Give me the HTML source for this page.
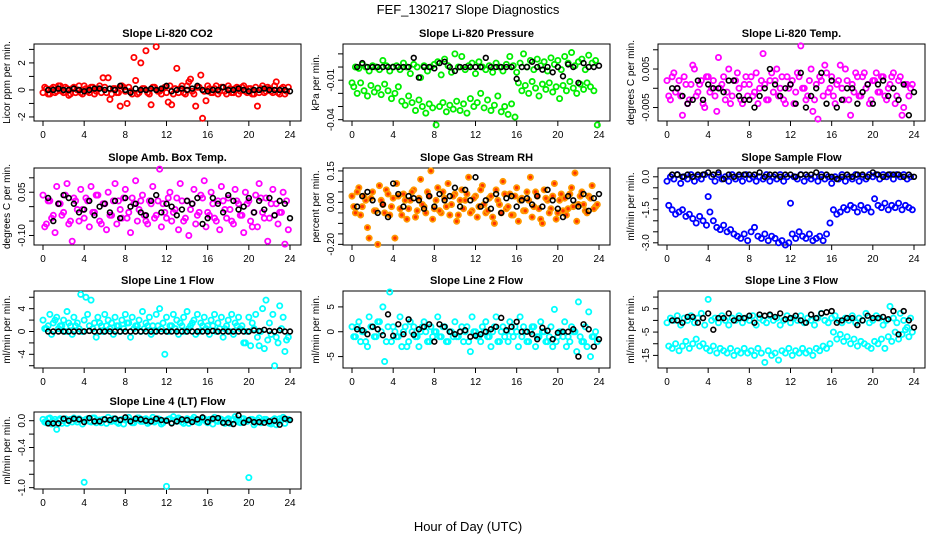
<!DOCTYPE html>
<html><head><meta charset="utf-8"><style>
body{margin:0;background:#fff;}
svg{display:block;font-family:"Liberation Sans",sans-serif;}
</style></head><body>
<svg id="chart" width="936" height="540" viewBox="0 0 936 540">
<rect width="936" height="540" fill="#fff"/>
<text x="468" y="14" text-anchor="middle" font-size="13">FEF_130217  Slope Diagnostics</text>
<text x="468" y="531" text-anchor="middle" font-size="13">Hour of Day (UTC)</text>
</svg>
<script>
const xTicks=[0,4,8,12,16,20,24];
const titles=["Slope Li-820 CO2","Slope Li-820 Pressure","Slope Li-820 Temp.","Slope Amb. Box Temp.","Slope Gas Stream RH","Slope Sample Flow","Slope Line 1 Flow","Slope Line 2 Flow","Slope Line 3 Flow","Slope Line 4 (LT) Flow"];
const yTitles=["Licor ppm per min.","kPa per min.","degrees C per min.","degrees C per min.","percent per min.","ml/min per min.","ml/min per min.","ml/min per min.","ml/min per min.","ml/min per min."];
const yDomains=[[-2.3,3.4],[-0.041,0.0175],[-0.0085,0.0115],[-0.133,0.134],[-0.203,0.164],[-3.1,0.4],[-6.4,7.1],[-7.3,8.2],[-20.4,12.6],[-1.02,0.13]];
const yTickVals=[[-2,-1,0,1,2,3],[-0.04,-0.03,-0.02,-0.01,0,0.01],[-0.005,0,0.005,0.01],[-0.1,-0.05,0,0.05,0.1],[-0.2,-0.15,-0.1,-0.05,0,0.05,0.1,0.15],[-3,-2.5,-2,-1.5,-1,-0.5,0],[-6,-4,-2,0,2,4,6],[-5,0,5],[-15,-10,-5,0,5,10],[-1,-0.8,-0.6,-0.4,-0.2,0]];
const yTickLabels=[["-2","0","2"],["-0.04","-0.01"],["-0.005","0.005"],["-0.10","0.05"],["-0.20","0.00","0.15"],["-3.0","-1.5","0.0"],["-4","0","4"],["-5","0","5"],["-15","-5","5"],["-1.0","-0.4","0.0"]];
const yLabelVals=[[-2,0,2],[-0.04,-0.01],[-0.005,0.005],[-0.1,0.05],[-0.2,0,0.15],[-3,-1.5,0],[-4,0,4],[-5,0,5],[-15,-5,5],[-1,-0.4,0]];
const seriesColor=["#ff0000","#00ee00","#ff00ff","#ff00ff","#ff9900","#0000ff","#00ffff","#00ffff","#00ffff","#00ffff"];
const co2A=[-0.2,0.1,-0.3,0.2,-0.1,0.3,-0.2,0.1,-0.3,0.2,0,-0.2,0.3,-0.1,0.2,-0.3,0.1,-0.2,0.2,0.9,-0.3,0.1,-0.2,0.3,-0.1,0.2,-0.3,0.7,-0.2,0.1,2.9,-0.3,0.2,3.2,-0.1,0.1,-0.2,0.3,-0.3,1.6,0.1,-0.2,0.3,0.8,-0.3,0.2,1.1,-0.1,0.3,-0.2,0.1,-0.3,0.2,-0.1,0.3,-0.2,0.1,-0.3,0.2,-0.1,0.1,-0.3,0.2,-0.2,0.3,-0.1,0.1,-0.2,0.6,-0.3,0.2,-0.1];
const co2B=[0.2,-0.3,0.1,-0.2,0.3,-0.1,0.2,-0.4,0.1,-0.2,0.3,-0.3,0.1,-0.2,0.2,-0.1,0.3,0.9,-0.2,-0.7,0.1,-0.2,-1.2,0.2,-1.0,-0.1,2.4,-0.3,2.0,0.1,-0.2,-1.1,0.2,-0.1,-0.3,0.2,-0.9,-1.1,0.1,-0.2,0.3,-0.3,0.6,-0.1,-1.2,0.2,-2.1,-0.8,0.1,-0.2,0.3,-0.1,0.2,-0.3,0.1,-0.2,0.2,-0.1,0.3,-0.2,0.1,-0.3,-1.2,0.1,-0.2,0.2,-0.1,0.3,-0.2,0.1,-0.3,0.2];
const co2K=[0,0,0.1,0,0,0.1,0,-0.1,0,0.1,0.1,0,0.1,0,0.3,0,-0.2,0.1,0,0,0.1,0,0.1,0.3,-0.1,0,0.1,0,0.1,0.3,0,-0.1,0,0,0.2,0,0,0.1,0,-0.1,0,0,0.1,0,0,0,0,-0.1];
const presA=[-0.012,0,-0.001,0.002,0,-0.003,0.001,0,-0.002,0.005,0.001,-0.003,0,0.001,-0.002,0.003,0,-0.005,0.002,0,-0.008,0.001,-0.003,0,0.002,0.004,-0.006,0.006,0.001,-0.004,0.010,0,0.008,-0.002,0.001,0.003,-0.005,0.004,0,-0.002,0.001,-0.004,0.003,0,-0.003,0.002,0.008,0.001,-0.004,0.003,0.010,0,0.005,-0.002,0.006,0.001,0.004,-0.003,0.007,0.002,0.005,-0.002,0.008,0.003,0.011,0.001,0.004,0.006,-0.002,0.009,0.003,0.005];
const presB=[-0.015,-0.020,-0.012,-0.018,-0.022,-0.014,-0.019,-0.016,-0.021,-0.013,-0.018,-0.024,-0.020,-0.015,-0.026,-0.029,-0.022,-0.027,-0.033,-0.025,-0.030,-0.035,-0.028,-0.031,-0.044,-0.030,-0.027,-0.034,-0.029,-0.032,-0.026,-0.033,-0.028,-0.035,-0.024,-0.030,-0.027,-0.020,-0.031,-0.025,-0.033,-0.029,-0.022,-0.034,-0.030,-0.036,-0.028,-0.038,-0.012,-0.018,-0.014,-0.020,-0.011,-0.016,-0.022,-0.013,-0.017,-0.012,-0.019,-0.015,-0.024,-0.014,-0.018,-0.011,-0.016,-0.020,-0.013,-0.017,-0.012,-0.015,-0.018,-0.044];
const presK=[0,0.003,0,0,0,0,0,0,0,0,0,0.007,-0.008,0,0,-0.001,0.003,0.004,0,-0.003,0,0,0,0,0,0.007,0,0,0,0,0,-0.009,0,0,0.004,0,-0.002,0,-0.004,0,-0.007,0.002,0,-0.012,0.003,0,0,0.001];
const tempA=[0.002,-0.003,0.004,0,-0.002,0.003,-0.004,0.001,0.005,-0.001,0.002,-0.005,0.003,0,-0.002,0.008,0.001,-0.003,0.005,-0.002,0.002,0,-0.004,0.003,0.001,-0.002,0.004,0,0.009,-0.003,0.002,-0.001,0.005,0,-0.003,0.003,0.001,-0.004,0.004,0.011,0,-0.002,0.005,-0.003,-0.008,0.002,0.006,-0.001,0.003,-0.004,0.002,0,0.005,-0.003,0.001,0.004,-0.002,0.003,0,-0.004,0.002,0.004,-0.001,0.003,-0.003,0.001,0.004,-0.002,0.003,-0.005,0.001,0];
const tempB=[-0.002,0.003,-0.001,0.002,-0.007,0.001,-0.003,0.006,-0.002,0.001,-0.004,0.003,-0.001,0.002,-0.006,0,0.003,-0.001,-0.004,0.002,0.004,-0.003,0.001,-0.002,0.003,-0.001,-0.004,0.002,0.001,-0.003,0.004,0.002,-0.002,0.003,-0.004,0,0.002,-0.001,0.003,0,-0.003,0.002,-0.006,0.001,0.003,-0.002,0.004,0,-0.002,0.001,0.006,-0.003,0.002,-0.007,-0.001,0.003,-0.002,0.004,0.001,-0.003,0.002,-0.001,0.003,-0.002,0,0.003,-0.004,0.002,-0.007,0.001,-0.002,0.001];
const tempK=[0,0,-0.002,-0.004,-0.003,0.002,-0.003,0.001,0,0,-0.001,0.002,0.002,-0.002,-0.003,-0.003,-0.005,-0.002,0,0.005,0.001,-0.002,0,0.001,-0.004,0.004,-0.005,-0.002,0,0.004,-0.004,0.002,-0.005,-0.003,0,0,-0.004,-0.001,0.001,-0.004,0.001,0.002,-0.002,0,-0.003,0.001,-0.007,-0.001];
const ambA=[0.04,-0.06,0.02,-0.03,0.07,0.01,-0.02,0.08,-0.05,0.03,-0.01,0.06,-0.04,0.02,0.07,-0.02,0.04,-0.06,0.01,0.05,-0.03,0.08,0.02,-0.04,0.06,-0.02,0.03,0.09,-0.01,0.04,-0.05,0.02,0.07,-0.03,0.13,0.01,-0.04,0.05,-0.02,0.03,0.08,-0.05,0.02,-0.01,0.06,-0.03,0.04,0.09,-0.02,0.05,-0.04,0.02,0.07,-0.01,0.03,-0.05,0.06,0.01,-0.03,0.05,0.02,-0.07,0.04,0.08,-0.02,0.03,-0.04,0.06,0.01,-0.02,0.05,0.02];
const ambB=[-0.07,0.02,-0.04,-0.09,0.01,-0.03,0.04,-0.06,-0.12,0.02,-0.05,-0.01,0.03,-0.07,-0.02,0.04,-0.05,0.01,-0.08,-0.03,0.02,-0.06,-0.01,0.03,-0.04,-0.09,0.01,-0.05,0.02,-0.03,-0.06,0.01,-0.04,0.02,-0.07,-0.02,0.03,-0.05,-0.01,-0.08,0.02,-0.04,-0.10,0.01,-0.06,-0.02,0.03,-0.07,-0.03,0.01,-0.05,-0.08,0.02,-0.04,-0.01,-0.06,0.02,-0.03,-0.09,0.01,-0.05,-0.02,-0.07,0.03,-0.04,-0.12,0.01,-0.03,-0.06,-0.02,-0.13,-0.08];
const ambK=[0.03,-0.05,0.01,0.04,0.03,0.01,-0.02,-0.01,0.02,-0.03,0,0.01,-0.02,0.02,-0.04,0.03,0,0.01,-0.02,-0.03,0.02,0.04,-0.02,0.01,0,-0.03,-0.01,0.02,0.01,0.03,-0.06,-0.04,0.03,0.01,-0.02,0.04,0.02,-0.01,0,0.03,-0.02,0.02,-0.01,0.03,-0.03,0.02,0.01,-0.04];
const rhA=[0.03,-0.05,0.07,-0.02,0.01,-0.17,0.05,-0.04,0.08,-0.01,0.06,-0.06,0.02,0.09,-0.03,0.04,-0.08,0.01,0.06,-0.04,0.11,-0.02,0.05,0.15,-0.03,0.07,-0.05,0.02,0.09,-0.01,0.04,-0.06,0.06,0.01,0.12,-0.04,0.03,-0.02,0.08,-0.05,0.02,-0.07,0.06,-0.01,0.10,-0.03,0.04,-0.06,0.07,0.01,-0.04,0.05,0.12,-0.02,0.03,-0.08,0.06,0.01,-0.03,0.09,-0.05,0.04,0.02,-0.03,0.07,0.14,-0.01,0.05,-0.04,0.03,0.08,-0.02];
const rhB=[-0.02,0.05,-0.06,0.03,-0.12,0.02,-0.04,-0.20,0.01,-0.05,0.04,-0.02,-0.17,0.03,-0.06,0.01,-0.03,0.05,-0.07,0.02,-0.01,-0.05,0.03,-0.08,0.01,-0.04,0.05,-0.02,-0.06,0.03,-0.09,0.01,-0.03,0.04,-0.05,0.02,-0.07,0.06,-0.01,-0.04,0.03,-0.10,0.01,-0.05,0.04,-0.02,-0.06,0.03,-0.09,0.02,-0.04,0.01,-0.07,0.05,-0.03,-0.10,0.02,-0.05,0.03,-0.08,0.01,-0.04,-0.06,0.04,-0.02,-0.09,0.03,-0.01,-0.05,0.02,-0.03,-0.01];
const rhK=[-0.02,0.03,0.05,0.01,-0.05,-0.01,-0.07,0.09,0.04,-0.02,0.03,0.02,0.01,-0.03,0.03,-0.02,0.04,0.01,0.03,0.07,-0.02,0.06,0.01,0.12,-0.02,0.01,-0.03,0.04,-0.05,0.02,0.03,-0.02,0.01,0.02,-0.01,0.03,-0.02,0.06,0.01,-0.03,-0.07,0.03,0.01,-0.02,0.04,-0.04,0.02,0.04];
const flowA=[-0.2,0,-0.1,0.1,-0.3,0,-0.1,0.1,-0.2,0,-0.1,0.1,-0.9,0,-0.2,0.1,-0.1,0,-0.2,0.1,-0.1,0,-0.2,0.1,-0.1,0,-0.2,0,-0.1,0.1,-0.2,0,-0.1,0.1,-0.2,0,-1.2,0,-0.1,0.1,-0.2,0,-0.1,0,-0.2,0.1,-0.1,0,-0.3,0,-0.1,0.1,-0.2,0,-0.1,0.1,-0.2,0,-0.1,0.1,0,0.1,-0.1,0.1,0,0.1,-0.1,0.1,0,0.1,-0.1,0];
const flowB=[-1.3,-1.5,-1.7,-1.6,-1.5,-1.8,-1.7,-1.9,-2.1,-1.8,-2.0,-2.2,-1.6,-2.0,-2.3,-2.4,-2.2,-2.5,-2.4,-2.6,-2.7,-2.8,-2.6,-2.9,-2.5,-2.3,-2.7,-2.8,-2.6,-2.9,-2.7,-2.8,-3.0,-2.9,-3.1,-3.0,-2.6,-2.8,-2.5,-2.7,-2.8,-2.6,-2.9,-2.8,-2.7,-2.9,-2.6,-2.1,-1.5,-1.7,-1.6,-1.4,-1.5,-1.3,-1.4,-1.6,-1.3,-1.5,-1.4,-1.6,-1.0,-1.3,-1.4,-1.2,-1.5,-1.3,-1.4,-1.2,-1.5,-1.3,-1.4,-1.5];
const flowK=[0.1,0.1,0,0.1,0,0.1,0.1,0.2,0.1,0.2,-0.1,0.1,0,0.1,0.1,0.1,0.1,0.2,0,0.1,0.1,0,0.1,0.1,0,0.1,0.1,0.1,0.2,0,0.1,0,-0.1,0,0.1,0,0.1,0.1,0,0.2,0.1,0,0.1,0.1,0.1,0,0.1,0];
const l1A=[2,0.5,3,1.5,2.5,1,2,3.5,1,2.5,1.5,6.5,2,3,5.5,1.5,2.5,1,3,2,1.5,2.5,1,2,3,1.5,2.5,1,2,3.5,1.5,2.5,1,3,4,1.5,2.5,1,3,2,1.5,2.5,3.5,1,2,3,1.5,2.5,1,2,3,1.5,2.5,0.5,2,3,1.5,2.5,1,-2,2.5,1.5,3,-2.5,4,5.5,1.5,3,-1,4.5,2.5,-1.5];
const l1B=[0.5,1,-0.5,2,0.5,1,0,1.5,-0.5,1,0.5,0,6,1,0.5,-1,1.5,0,1,0.5,-0.5,1,0,0.5,1.5,-1,0.5,1,0,0.5,1,-0.5,0,1,0.5,-4,0,1,0.5,-0.5,1,0,0.5,1.5,-0.5,0,1,0.5,-0.5,1,0,0.5,-1,1,0,-0.5,1,0.5,-2,0,-2.5,0.5,-1,0,-3,-1.5,-0.5,-6,-2,0.5,-3.5,-1];
const l1K=[0,0,0,0,0,0,0,0,0.1,0,0,0,0,0,0,0,0,0,0,0,0,0,0,0,0,0,0,0,0,0,0,0,0.1,0,0,0,0,0,0,0,0.2,0.1,0.3,0.1,0,0.2,0,0];
const l2A=[1,-1,2,0,-2,3,1,-1,2,5,-2,8,1,-1,3,0,-3,2,1,-1,0,2,-2,1,0,3,-1,1,-2,0,2,-1,1,0,-2,3,0,-1,1,2,-1,0,3,-2,1,0,2,-1,0,3,1,-2,0,1,-1,2,0,-2,1,4.5,-1,0,2,-1,1,0,6,-2,1,4,-1,0];
const l2B=[-1,1,-2,0,-3,1,-1,2,0,-6,1,-2,0,-1,-3,1,-2,0,-1,-3,1,0,-2,-1,0,-1,1,-2,0,-1,-1,0,-2,1,-4,0,-1,-2,0,-1,-3,1,-2,0,-1,-2,0,1,-3,-1,0,-2,1,-3,-1,0,-2,-1,-3,-2,0,-1,-3,-2,0,-4,-1,-2,-3,-5,-1,-2];
const l2K=[0.5,0.3,-0.5,1,0.5,-0.7,3.5,-0.8,1.5,-0.5,2.5,-0.6,0.5,1,1.5,-2,1.5,1,0,-0.5,0,0.3,-1,-0.8,-0.5,0,0.5,1,2.8,0.3,1,2,0,0,-0.5,-1.5,0.8,0.2,-1.5,-0.2,0,0,0.5,-5,1.5,0.5,-3,-1.5];
const l3A=[-1,1,0,2,-2,1,0,2,-1,1,3,-2,9,0,1,-1,2,0,-2,1,0,2,-1,1,0,2,-2,1,0,-1,2,0,1,-2,0,2,-1,1,0,2,-1,1,0,-2,1,3,0,-1,1,2,0,-1,1,0,2,-1,1,0,3,-1,0,2,1,-2,0,6,1,-1,3,0,-3,1];
const l3B=[-11,-12,-10,-13,-11,-9,-12,-10,-8,-11,-10,-12,-13,-11,-14,-12,-13,-14,-12,-15,-13,-14,-12,-14,-13,-15,-12,-14,-18,-13,-15,-14,-17,-13,-14,-12,-15,-13,-14,-12,-14,-13,-15,-12,-13,-11,-12,-10,-5,-8,-6,-9,-7,-10,-8,-11,-9,-10,-11,-12,-9,-10,-8,-12,-7,-9,-5,-8,-6,-4,-7,-5];
const l3K=[0,0,-1,1.5,1.5,-1,1,3,-4,1,1,3,0,1,1,2,-1,2.5,2,2.5,1.5,3,0.5,1,2,0,-1,2.5,1,3,3.5,4,-1,0,1,1,-2,0,2,1,1,1.5,0.5,4,-6,4,0,-3];
const l4A=[0.02,-0.03,0.04,-0.01,-0.13,0.03,0,-0.04,0.02,0.04,-0.02,0.01,-0.92,0.03,-0.02,0.04,0,-0.03,0.02,0.05,-0.01,0.03,-0.04,0.02,0.01,0.05,-0.03,0.02,0.04,-0.01,0.03,-0.02,0.05,0,0.02,-0.03,-0.98,0.03,0.06,-0.01,0.02,-0.04,0.03,0,0.05,-0.02,0.01,0.03,-0.03,0.02,0.05,-0.01,0.02,-0.04,0.03,0.01,0.06,-0.02,0.03,0,-0.85,0.02,-0.03,0.04,0,0.02,-0.04,0.01,-0.06,0.03,0.05,0.02];
const l4B=[-0.02,0.03,-0.05,0.02,0.01,-0.04,0.03,0,-0.02,0.01,0.03,-0.05,0.02,-0.01,0.04,-0.03,0.01,0.02,-0.04,0,0.03,-0.02,0.01,-0.05,0.02,0,-0.03,0.04,-0.01,0.02,-0.04,0.01,-0.02,0.03,-0.05,0,0.02,-0.03,0.01,0.04,-0.02,0,-0.04,0.02,0.01,-0.03,0.04,-0.01,0.02,-0.05,0,0.03,-0.02,0.01,-0.04,0.02,0,-0.03,0.03,-0.01,0.02,-0.06,0.01,-0.03,0.02,0,-0.05,0.03,-0.02,0.01,-0.04,0.02];
const l4K=[-0.04,-0.04,-0.04,0.03,0,0.03,0.02,-0.02,0.04,-0.01,-0.01,0.02,0.01,0.03,0.01,0.05,-0.01,0.03,0.02,0,-0.01,0.03,0.01,0,-0.04,-0.01,0.02,0.01,-0.02,0.02,0.05,-0.02,0.03,0.04,-0.03,-0.03,-0.05,0.08,-0.03,0.01,-0.02,-0.02,-0.03,-0.01,0,-0.06,0.03,0.01];

const colA=[co2A,presA,tempA,ambA,rhA,flowA,l1A,l2A,l3A,l4A];
const colB=[co2B,presB,tempB,ambB,rhB,flowB,l1B,l2B,l3B,l4B];
const blk=[co2K,presK,tempK,ambK,rhK,flowK,l1K,l2K,l3K,l4K];

const NS="http://www.w3.org/2000/svg";
const svg=document.getElementById('chart');
const colLeft=[34,343,658], rowTop=[44,168,291,412], W=267, H=77;
function mk(tag,attrs,parent){const e=document.createElementNS(NS,tag);for(const k in attrs)e.setAttribute(k,attrs[k]);(parent||svg).appendChild(e);return e;}
for(let p=0;p<10;p++){
  const L=colLeft[p%3], T=rowTop[Math.floor(p/3)];
  const g=mk('g',{});
  
  
  const xs=h=>L+9+h*(247/24);
  const dom=yDomains[p];
  const ys=v=>T+H-(v-dom[0])/(dom[1]-dom[0])*H;
  const t=mk('text',{x:L+W/2,y:T-7,'text-anchor':'middle','font-size':11,'font-weight':'bold'},g);
  t.textContent=titles[p];
  
  
  const yt=mk('text',{x:0,y:0,'text-anchor':'middle','font-size':10,transform:`translate(${L-24},${T+H/2}) rotate(-90)`},g);
  yt.textContent=yTitles[p];
  
  
  const xa=mk('g',{},g);
  
  
  mk('line',{x1:xs(0),x2:xs(24),y1:T+H,y2:T+H,stroke:'#000'},xa);
  xTicks.forEach(v=>{
    mk('line',{x1:xs(v),x2:xs(v),y1:T+H,y2:T+H+5,stroke:'#000'},xa);
    const tl=mk('text',{x:xs(v),y:T+H+17,'text-anchor':'middle','font-size':10},xa);
    tl.textContent=v;
    
    
  });
  const ya=mk('g',{},g);
  
  
  const tv=yTickVals[p];
  mk('line',{x1:L,x2:L,y1:ys(tv[0]),y2:ys(tv[tv.length-1]),stroke:'#000'},ya);
  tv.forEach(v=>mk('line',{x1:L-5,x2:L,y1:ys(v),y2:ys(v),stroke:'#000'},ya));
  yLabelVals[p].forEach((v,i)=>{
    const tl=mk('text',{x:0,y:0,'text-anchor':'middle','font-size':10,transform:`translate(${L-9},${ys(v)}) rotate(-90)`},ya);
    tl.textContent=yTickLabels[p][i];
    
    
  });
  const bx=mk('rect',{x:L,y:T,width:W,height:H,fill:'none',stroke:'#000'},g);
  
  
  const pts=mk('g',{},g);
  
  
  [colA[p],colB[p]].forEach((arr,si)=>{
    arr.forEach((v,i)=>{
      const h=i/3+(si?0.17:0);
      const c=mk('circle',{cx:xs(h),cy:ys(v),r:2.6,fill:p===4?'#ff3300':'none',stroke:seriesColor[p],'stroke-width':1.8},pts);
      
      
    });
  });
  const bp=mk('g',{},g);
  
  
  blk[p].forEach((v,i)=>{
    const c=mk('circle',{cx:xs(0.5+i*0.5),cy:ys(v),r:2.4,fill:'none',stroke:'#000','stroke-width':1.6},bp);
    
    
  });
}
</script>
</body></html>
